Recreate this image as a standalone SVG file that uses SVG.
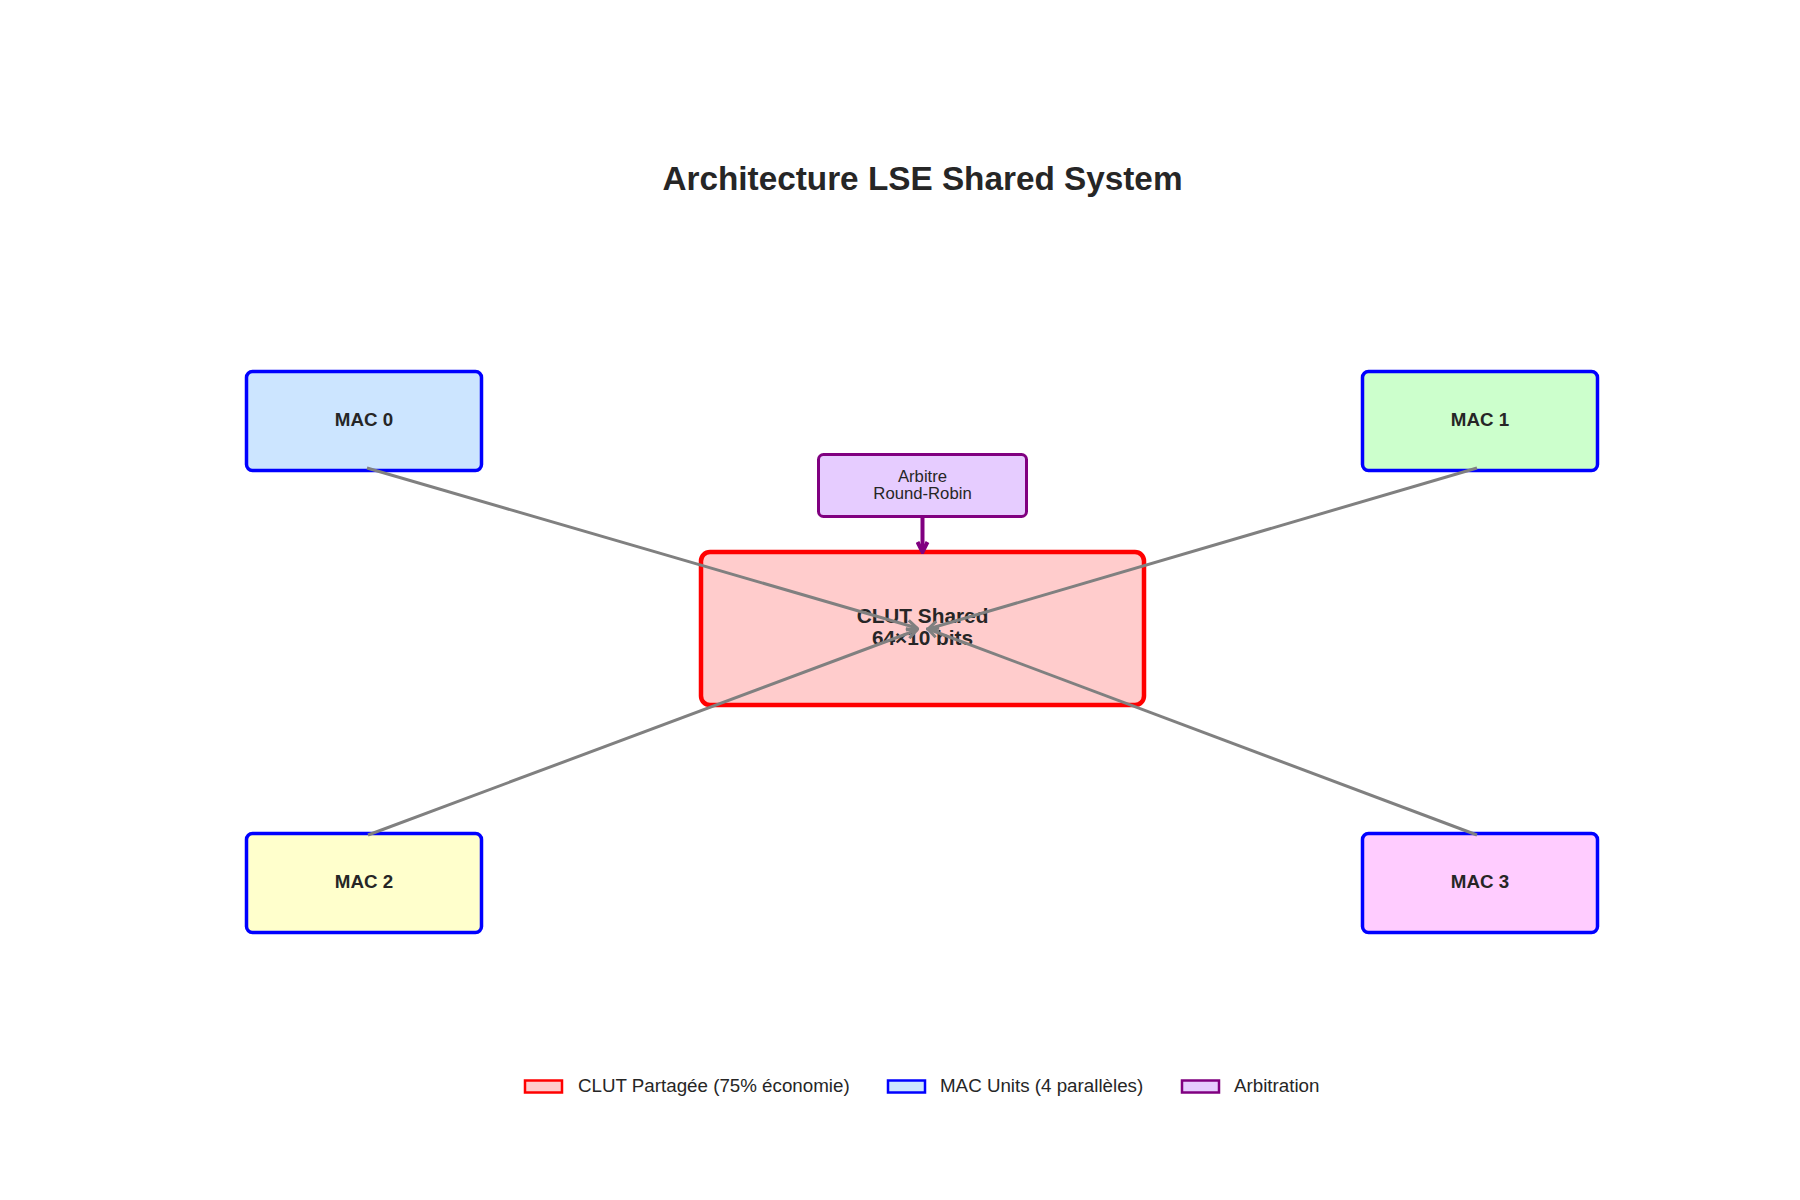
<svg xmlns="http://www.w3.org/2000/svg" width="1800" height="1200" viewBox="0 0 1800 1200">
  <defs>
    <style>
      text { font-family: "Liberation Sans", Arial, sans-serif; fill: #262626; }
      .title { font-size: 33.3px; font-weight: bold; text-anchor: middle; }
      .mac { stroke: #0000ff; stroke-width: 3.5; }
      .mac-label { font-size: 18.75px; font-weight: bold; text-anchor: middle; }
      .clut { fill: #ffcccc; stroke: #ff0000; stroke-width: 4.5; }
      .clut-label { font-size: 20.8px; font-weight: bold; text-anchor: middle; }
      .arb { fill: #e6ccff; stroke: #800080; stroke-width: 3; }
      .arb-label { font-size: 16.7px; text-anchor: middle; }
      .conn { fill: none; stroke: #808080; stroke-width: 3; }
      .conn-arb { fill: none; stroke: #800080; stroke-width: 4; }
      .legend-text { font-size: 18.75px; }
    </style>
    <marker id="headGray" markerUnits="userSpaceOnUse" viewBox="-12 -7 14 14" refX="0" refY="0" markerWidth="14" markerHeight="14" orient="auto">
      <path d="M-10,-5 L0,0 L-10,5" fill="none" stroke="#808080" stroke-width="3"/>
    </marker>
    <marker id="headPurple" markerUnits="userSpaceOnUse" viewBox="-12 -7 14 14" refX="0" refY="0" markerWidth="14" markerHeight="14" orient="auto">
      <path d="M-10,-5 L0,0 L-10,5" fill="none" stroke="#800080" stroke-width="4"/>
    </marker>
  </defs>
  <rect x="0" y="0" width="1800" height="1200" fill="#ffffff"/>

  <text class="title" x="922.5" y="190">Architecture LSE Shared System</text>

  <g id="clut">
    <rect class="clut" x="701" y="552" width="443" height="153" rx="9" ry="9"/>
    <text class="clut-label" x="922.5" y="622.5">CLUT Shared</text>
    <text class="clut-label" x="922.5" y="644.5">64×10 bits</text>
  </g>

  <g id="arbitre">
    <rect class="arb" x="818.5" y="454.5" width="208" height="62" rx="5" ry="5"/>
    <text class="arb-label" x="922.5" y="482">Arbitre</text>
    <text class="arb-label" x="922.5" y="499">Round-Robin</text>
  </g>

  <g id="mac0">
    <rect class="mac" x="246.5" y="371.5" width="235" height="99" rx="6" ry="6" fill="#cce5ff"/>
    <text class="mac-label" x="364" y="425.5">MAC 0</text>
  </g>
  <g id="mac1">
    <rect class="mac" x="1362.5" y="371.5" width="235" height="99" rx="6" ry="6" fill="#ccffcc"/>
    <text class="mac-label" x="1480" y="425.5">MAC 1</text>
  </g>
  <g id="mac2">
    <rect class="mac" x="246.5" y="833.5" width="235" height="99" rx="6" ry="6" fill="#ffffcc"/>
    <text class="mac-label" x="364" y="887.5">MAC 2</text>
  </g>
  <g id="mac3">
    <rect class="mac" x="1362.5" y="833.5" width="235" height="99" rx="6" ry="6" fill="#ffccff"/>
    <text class="mac-label" x="1480" y="887.5">MAC 3</text>
  </g>

  <g id="connectors">
    <line class="conn" x1="367" y1="468" x2="917" y2="628" marker-end="url(#headGray)"/>
    <line class="conn" x1="1477" y1="468" x2="928" y2="629" marker-end="url(#headGray)"/>
    <line class="conn" x1="368" y1="835" x2="917" y2="630" marker-end="url(#headGray)"/>
    <line class="conn" x1="1477" y1="835" x2="928" y2="629" marker-end="url(#headGray)"/>
    <line class="conn-arb" x1="922.5" y1="518" x2="922.5" y2="552" marker-end="url(#headPurple)"/>
  </g>

  <g id="legend">
    <rect x="525" y="1080.5" width="37" height="12" fill="#ffcccc" stroke="#ff0000" stroke-width="2.5"/>
    <text class="legend-text" x="578" y="1092">CLUT Partagée (75% économie)</text>
    <rect x="888" y="1080.5" width="37" height="12" fill="#cce5ff" stroke="#0000ff" stroke-width="2.5"/>
    <text class="legend-text" x="940" y="1092">MAC Units (4 parallèles)</text>
    <rect x="1182" y="1080.5" width="37" height="12" fill="#e6ccff" stroke="#800080" stroke-width="2.5"/>
    <text class="legend-text" x="1234" y="1092">Arbitration</text>
  </g>
</svg>
